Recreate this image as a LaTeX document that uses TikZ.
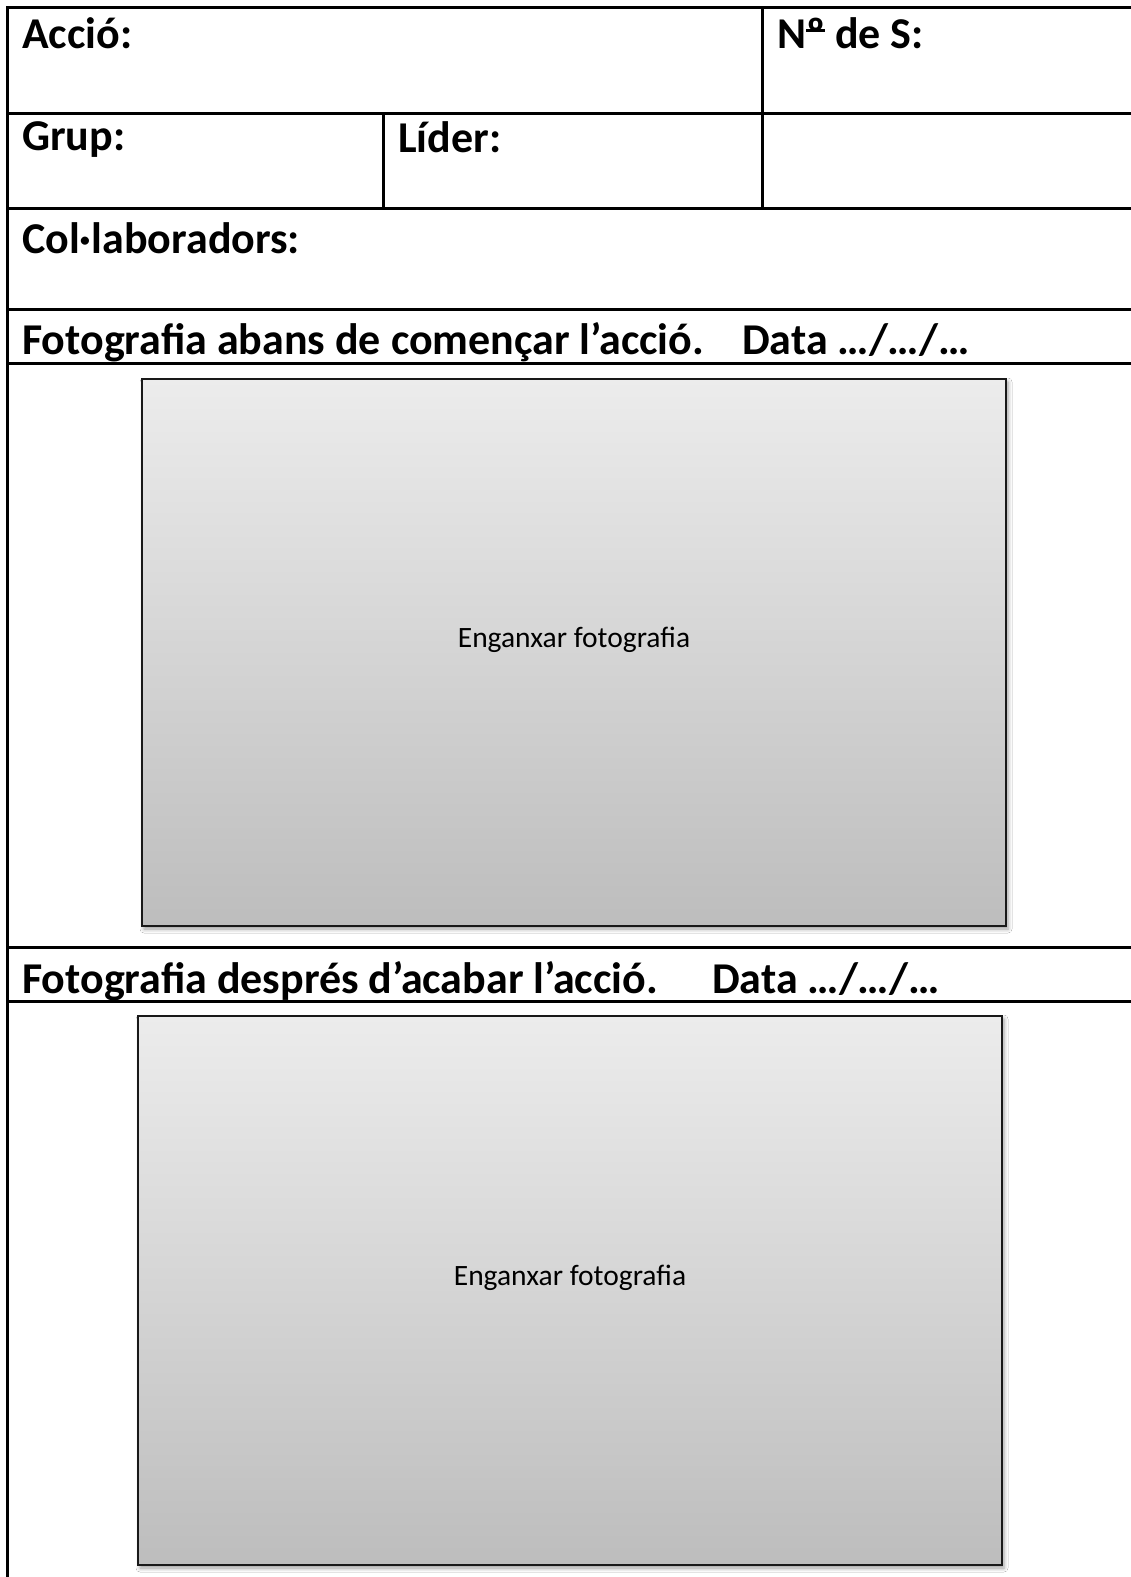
\documentclass[tikz,border=0pt]{standalone}
\usepackage{fontspec}
\setmainfont{Carlito}
\usetikzlibrary{shadows.blur}

\definecolor{gridline}{RGB}{0,0,0}
\definecolor{phototop}{RGB}{236,236,236}
\definecolor{photobottom}{RGB}{189,189,189}
\definecolor{photoedge}{RGB}{25,25,25}

% numero sign with the underlined ordinal indicator
\newcommand{\numsign}{N\setbox0\hbox{º}\rlap{\rule[0.37em]{\wd0}{0.055em}}\box0}

\tikzset{
  gridrule/.style={line width=3pt, draw=gridline, line cap=rect},
  label/.style={anchor=base west, inner sep=0pt, font=\fontsize{44}{50}\selectfont\bfseries},
  photobox/.style={draw=photoedge, line width=2.4pt, top color=phototop, bottom color=photobottom,
    blur shadow={shadow xshift=2pt, shadow yshift=-3pt, shadow blur radius=4pt, shadow opacity=40}},
  hint/.style={anchor=center, inner sep=0pt, font=\fontsize{29.5}{34}\selectfont}
}

\begin{document}
\begin{tikzpicture}[x=1pt, y=-1pt]
  \useasboundingbox (0,0) rectangle (1131,1577);
  \fill[white] (0,0) rectangle (1131,1577);

  % table frame and row rules
  \coordinate (tl) at (7,7);
  \coordinate (tr) at (1140,7);
  \coordinate (bl) at (7,1590);
  \draw[gridrule] (bl) -- (tl) -- (tr);
  \foreach \y in {113,208,309,363,947,1001}
    \draw[gridrule] (7,\y) -- (1140,\y);
  % column rules in the upper rows
  \draw[gridrule] (762,7) -- (762,208);
  \draw[gridrule] (383,113) -- (383,208);

  % field labels
  \node[label] (accio) at (22,48) {Acció:};
  \node[label] (nums) at (777,48) {\numsign{} de S:};
  \node[label] (grup) at (22,150) {Grup:};
  \node[label] (lider) at (398,152) {Líder:};
  \node[label] (colab) at (22,253) {Col·laboradors:};
  \node[label] (abans) at (22,354) {Fotografia abans de començar l’acció.};
  \node[label] (dataA) at (742,354) {Data …/…/…};
  \node[label] (despres) at (22,993) {Fotografia després d’acabar l’acció.};
  \node[label] (dataB) at (712,993) {Data …/…/…};

  % photo placeholders
  \path[photobox] (142,379) rectangle (1006,926);
  \node[hint] (fotoA) at (574,640) {Enganxar fotografia};
  \path[photobox] (138,1016) rectangle (1002,1565);
  \node[hint] (fotoB) at (570,1278) {Enganxar fotografia};
\end{tikzpicture}
\end{document}
